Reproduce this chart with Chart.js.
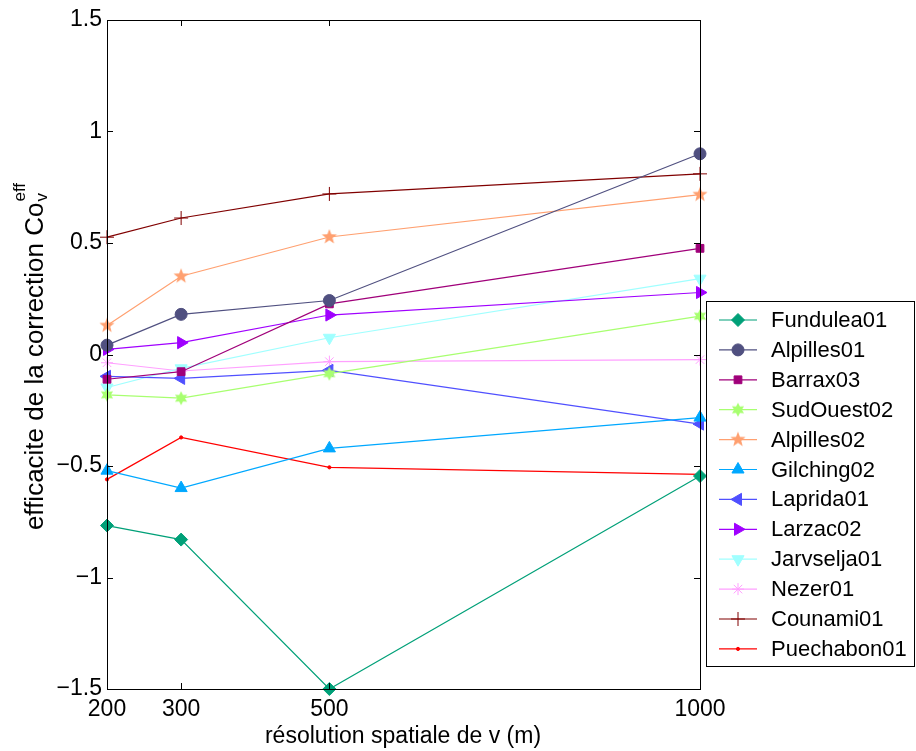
<!DOCTYPE html>
<html>
<head>
<meta charset="utf-8">
<script src="https://cdn.jsdelivr.net/npm/chart.js@4.4.0/dist/chart.umd.min.js"></script>
<style>
  html, body { margin: 0; padding: 0; background: #fff; }
  #wrap { width: 916px; height: 751px; position: relative; }
</style>
</head>
<body>
<div id="wrap"><canvas id="c" width="916" height="751"></canvas></div>
<script>
// spatial resolutions (m)
const resolutions = [200, 300, 500, 1000];
const yTicks = [-1.5, -1, -0.5, 0, 0.5, 1, 1.5];

// efficacite de la correction, one array per site
const fundulea01  = [-0.767, -0.83, -1.50, -0.545];
const alpilles01  = [0.042, 0.180, 0.242, 0.900];
const barrax03    = [-0.111, -0.077, 0.227, 0.476];
const sudOuest02  = [-0.181, -0.196, -0.086, 0.172];
const alpilles02  = [0.130, 0.351, 0.527, 0.717];
const gilching02  = [-0.521, -0.599, -0.421, -0.283];
const laprida01   = [-0.098, -0.107, -0.071, -0.312];
const larzac02    = [0.023, 0.053, 0.177, 0.278];
const jarvselja01 = [-0.148, -0.062, 0.075, 0.340];
const nezer01     = [-0.037, -0.074, -0.032, -0.023];
const counami01   = [0.526, 0.612, 0.720, 0.810];
const puechabon01 = [-0.560, -0.372, -0.506, -0.538];

const FONT = '"Liberation Sans", Arial, Helvetica, sans-serif';

// filled n-pointed star as canvas pointStyle
function starCanvas(n, color, r) {
  const size = Math.ceil(r * 2 + 2);
  const cv = document.createElement('canvas');
  cv.width = size; cv.height = size;
  const g = cv.getContext('2d');
  const inner = n === 5 ? r * 0.42 : r * 0.55;
  g.beginPath();
  for (let i = 0; i < n * 2; i++) {
    const a = -Math.PI / 2 + i * Math.PI / n;
    const rr = i % 2 === 0 ? r : inner;
    const px = size / 2 + rr * Math.cos(a), py = size / 2 + rr * Math.sin(a);
    if (i === 0) g.moveTo(px, py); else g.lineTo(px, py);
  }
  g.closePath();
  g.fillStyle = color;
  g.fill();
  return cv;
}

function series(label, values, color, style, radius, rotation) {
  return {
    label: label,
    data: values.map((v, i) => ({ x: resolutions[i], y: v })),
    borderColor: color,
    backgroundColor: color,
    pointBackgroundColor: color,
    pointBorderColor: color,
    borderWidth: 1.2,
    pointBorderWidth: 1,
    pointStyle: style,
    pointRadius: radius,
    pointHoverRadius: radius,
    pointRotation: rotation || 0,
    tension: 0,
    clip: false
  };
}

const datasets = [
  series('Fundulea01', fundulea01, '#00a078', 'rectRot', 6.5),
  series('Alpilles01', alpilles01, '#505080', 'circle', 6),
  series('Barrax03', barrax03, '#a0007a', 'rect', 5.5),
  series('SudOuest02', sudOuest02, '#a8ff70', starCanvas(6, '#a8ff70', 7), 7),
  series('Alpilles02', alpilles02, '#ffa070', starCanvas(5, '#ffa070', 8), 8),
  series('Gilching02', gilching02, '#00a8ff', 'triangle', 7),
  series('Laprida01', laprida01, '#5050ff', 'triangle', 7, -90),
  series('Larzac02', larzac02, '#a000ff', 'triangle', 7, 90),
  series('Jarvselja01', jarvselja01, '#a0ffff', 'triangle', 7, 180),
  series('Nezer01', nezer01, '#ffa0ff', 'star', 6),
  series('Counami01', counami01, '#800000', 'cross', 7),
  series('Puechabon01', puechabon01, '#ff0000', 'circle', 1.6)
];

// MATLAB style box, inward ticks, axis titles and boxed legend
const matlabFrame = {
  id: 'matlabFrame',
  afterDraw(chart) {
    const ctx = chart.ctx;
    const a = chart.chartArea;
    const xs = chart.scales.x, ys = chart.scales.y;
    ctx.save();
    ctx.strokeStyle = '#000';
    ctx.lineWidth = 1;
    ctx.strokeRect(Math.round(a.left) + 0.5, Math.round(a.top) + 0.5,
                   Math.round(a.right - a.left), Math.round(a.bottom - a.top));
    const tl = 6;
    ctx.beginPath();
    resolutions.forEach(v => {
      const px = Math.round(xs.getPixelForValue(v)) + 0.5;
      ctx.moveTo(px, a.bottom); ctx.lineTo(px, a.bottom - tl);
      ctx.moveTo(px, a.top); ctx.lineTo(px, a.top + tl);
    });
    yTicks.forEach(v => {
      const py = Math.round(ys.getPixelForValue(v)) + 0.5;
      ctx.moveTo(a.left, py); ctx.lineTo(a.left + tl, py);
      ctx.moveTo(a.right, py); ctx.lineTo(a.right - tl, py);
    });
    ctx.stroke();

    // x title
    ctx.fillStyle = '#000';
    ctx.font = '23px ' + FONT;
    ctx.textAlign = 'center';
    ctx.textBaseline = 'alphabetic';
    ctx.fillText('résolution spatiale de v (m)', 403, 743);

    // y title with sub/superscript
    ctx.translate(43, 357);
    ctx.rotate(-Math.PI / 2);
    const main = 'efficacite de la correction Co';
    ctx.font = '26px ' + FONT;
    const wMain = ctx.measureText(main).width;
    ctx.font = '17px ' + FONT;
    const wSup = ctx.measureText('eff').width;
    const total = wMain + wSup;
    const x0 = -total / 2;
    ctx.textAlign = 'left';
    ctx.font = '26px ' + FONT;
    ctx.fillText(main, x0, 0);
    ctx.font = '17px ' + FONT;
    ctx.fillText('eff', x0 + wMain + 1, -18);
    ctx.fillText('v', x0 + wMain + 1, 4);
    ctx.restore();

    // legend box
    const lx = 706, ly = 301, lw = 208, lh = 365;
    ctx.save();
    ctx.fillStyle = '#fff';
    ctx.fillRect(lx, ly, lw, lh);
    ctx.strokeStyle = '#000';
    ctx.lineWidth = 1;
    ctx.strokeRect(lx + 0.5, ly + 0.5, lw, lh);
    ctx.font = '22px ' + FONT;
    ctx.textAlign = 'left';
    ctx.textBaseline = 'middle';
    chart.data.datasets.forEach((ds, i) => {
      const ry = 320 + i * 29.9;
      ctx.strokeStyle = ds.borderColor;
      ctx.lineWidth = 1.2;
      ctx.beginPath();
      ctx.moveTo(719, ry); ctx.lineTo(757, ry);
      ctx.stroke();
      ctx.fillStyle = ds.pointBackgroundColor;
      ctx.strokeStyle = ds.pointBorderColor;
      ctx.lineWidth = 1;
      Chart.helpers.drawPoint(ctx, {
        pointStyle: ds.pointStyle,
        radius: ds.pointRadius,
        rotation: ds.pointRotation,
        borderWidth: 1
      }, 738, ry);
      ctx.fillStyle = '#000';
      ctx.fillText(ds.label, 771, ry + 1);
    });
    ctx.restore();
  }
};

new Chart(document.getElementById('c'), {
  type: 'line',
  data: { datasets: datasets },
  options: {
    responsive: false,
    animation: false,
    layout: { padding: { left: 0, right: 216, top: 20, bottom: 0 } },
    plugins: { legend: { display: false }, tooltip: { enabled: false } },
    scales: {
      x: {
        type: 'linear',
        min: 200, max: 1000,
        afterBuildTicks: s => { s.ticks = resolutions.map(v => ({ value: v })); },
        afterFit: s => { s.height = 62; },
        grid: { display: false, drawTicks: false },
        border: { display: false },
        ticks: {
          color: '#000', font: { size: 23, family: FONT }, padding: 7,
          maxRotation: 0, autoSkip: false,
          callback: v => String(v)
        }
      },
      y: {
        min: -1.5, max: 1.5,
        afterBuildTicks: s => { s.ticks = yTicks.map(v => ({ value: v })); },
        afterFit: s => { s.width = 107; },
        grid: { display: false, drawTicks: false },
        border: { display: false },
        ticks: {
          color: '#000', font: { size: 23, family: FONT }, padding: 5,
          callback: v => v < 0 ? '\u2212' + Math.abs(v) : String(v)
        }
      }
    }
  },
  plugins: [matlabFrame]
});
</script>
</body>
</html>
